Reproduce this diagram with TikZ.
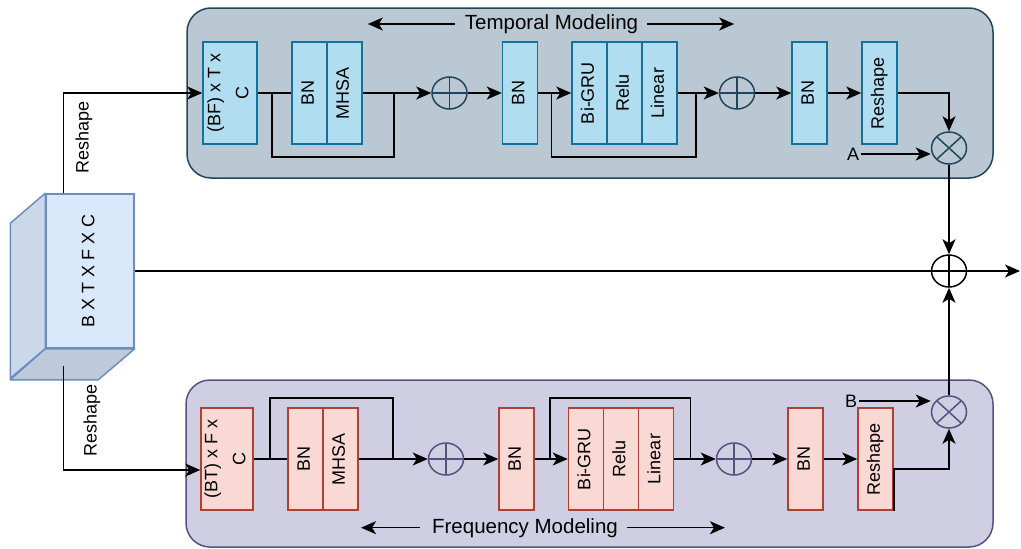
\documentclass[tikz,border=0pt]{standalone}
\usepackage{fontspec}
\setmainfont{Liberation Sans}
\usetikzlibrary{shapes.geometric,arrows.meta}
\definecolor{tempPanel}{HTML}{BAC8D3}
\definecolor{tempEdge}{HTML}{23445D}
\definecolor{tempBox}{HTML}{B1DDF0}
\definecolor{tempBoxEdge}{HTML}{10739E}
\definecolor{freqPanel}{HTML}{D0CEE2}
\definecolor{freqEdge}{HTML}{56517E}
\definecolor{freqBox}{HTML}{FAD9D5}
\definecolor{freqBoxEdge}{HTML}{AE4132}
\definecolor{cubeFace}{HTML}{DAE8FC}
\definecolor{cubeEdge}{HTML}{6C8EBF}
\newcommand{\vtext}[1]{\rotatebox{90}{\begin{tabular}{@{}c@{}}#1\end{tabular}}}

\begin{document}
\begin{tikzpicture}[x=1pt, y=-1pt, line width=1.5pt,
    font=\fontsize{18}{22}\selectfont,
    >={Stealth[length=15pt,width=13pt,inset=4pt]},
    blk/.style={draw, minimum width=35pt, minimum height=102pt, inner sep=0pt},
    tblk/.style={blk, fill=tempBox, draw=tempBoxEdge},
    fblk/.style={blk, fill=freqBox, draw=freqBoxEdge},
    addop/.style={draw=#1, ellipse, minimum width=35pt, minimum height=32pt, inner sep=0pt,
        path picture={\draw[#1] (path picture bounding box.north) -- (path picture bounding box.south)
            (path picture bounding box.west) -- (path picture bounding box.east);}},
    mulop/.style={draw=#1, ellipse, minimum width=35pt, minimum height=32pt, inner sep=0pt,
        path picture={\draw[#1] (path picture bounding box.north west) -- (path picture bounding box.south east)
            (path picture bounding box.north east) -- (path picture bounding box.south west);}},
    title/.style={anchor=base, font=\fontsize{20.5}{24}\selectfont}]
    \useasboundingbox (0,0) rectangle (1021,549);

    \filldraw[fill=tempPanel, draw=tempEdge, rounded corners=24pt] (187,8) rectangle (993,178);
    \filldraw[fill=freqPanel, draw=freqEdge, rounded corners=24pt] (186,380) rectangle (993,547);

    \node[title] (ttitle) at (551.5,29.3) {Temporal Modeling};
    \draw[->] ([xshift=-6pt]ttitle.west) -- ([xshift=-93pt]ttitle.west);
    \draw[->] ([xshift=5pt]ttitle.east) -- ([xshift=92pt]ttitle.east);
    \node[title] (ftitle) at (525,533) {Frequency Modeling};
    \draw[->] ([xshift=-8pt]ftitle.west) -- ([xshift=-67pt]ftitle.west);
    \draw[->] ([xshift=5pt]ftitle.east) -- ([xshift=103pt]ftitle.east);

    \node[draw=cubeEdge, fill=cubeFace, minimum width=88pt, minimum height=154pt, inner sep=0pt] (cube) at (90,271) {\vtext{B X T X F X C}};
    \filldraw[draw=cubeEdge, fill=cubeFace!93!black, line join=round] (cube.north west) -- ++(-35,30) -- ++(0,155) -- (cube.south west) -- cycle;
    \filldraw[draw=cubeEdge, fill=cubeFace!87!black, line join=round] (cube.south west) -- ++(-35,31) -- ++(88,0) -- (cube.south east) -- cycle;

    \node[tblk, minimum width=54pt] (bf) at (230,93) {\vtext{(BF) x T x\\[6pt]C}};
    \node[tblk] (tbn1) at (309.5,93) {\vtext{BN}};
    \node[tblk] (tmhsa) at (344.5,93) {\vtext{MHSA}};
    \node[addop=tempEdge] (tadd1) at (449.5,93) {};
    \node[tblk] (tbn2) at (520,93) {\vtext{BN}};
    \node[tblk] (tgru) at (589.5,93) {\vtext{Bi-GRU}};
    \node[tblk] (trelu) at (624.5,93) {\vtext{Relu}};
    \node[tblk] (tlin) at (659.5,93) {\vtext{Linear}};
    \node[addop=tempEdge] (tadd2) at (737,93) {};
    \node[tblk] (tbn3) at (809.5,93) {\vtext{BN}};
    \node[tblk] (tresh) at (879.5,93) {\vtext{Reshape}};
    \node[mulop=tempEdge] (tmul) at (949,148) {};
    \node[inner sep=1pt] (A) at (853,154) {A};

    \node[fblk, minimum width=52pt] (bt) at (227,459) {\vtext{(BT) x F x\\[6pt]C}};
    \node[fblk] (fbn1) at (305.5,459) {\vtext{BN}};
    \node[fblk] (fmhsa) at (340.5,459) {\vtext{MHSA}};
    \node[addop=freqEdge] (fadd1) at (446,459) {};
    \node[fblk] (fbn2) at (516.5,459) {\vtext{BN}};
    \node[fblk] (fgru) at (586,459) {\vtext{Bi-GRU}};
    \node[fblk] (frelu) at (621,459) {\vtext{Relu}};
    \node[fblk] (flin) at (656,459) {\vtext{Linear}};
    \node[addop=freqEdge] (fadd2) at (734,459) {};
    \node[fblk] (fbn3) at (805.5,459) {\vtext{BN}};
    \node[fblk] (fresh) at (875.5,459) {\vtext{Reshape}};
    \node[mulop=freqEdge] (fmul) at (949,412) {};
    \node[inner sep=1pt] (B) at (851,401) {B};

    \node[addop=black] (sum) at (949,271) {};
    \coordinate (out) at (1020,271);

    \node[rotate=90] (rtop) at (84,137) {Reshape};
    \node[rotate=90] (rbot) at (92,420) {Reshape};
    \draw[->] ([xshift=18pt]cube.north west) |- (bf.west);
    \draw[->] ([xshift=18pt,yshift=-17pt]cube.south west) |- ([yshift=-11pt]bt.west);

    \draw (bf.east) -- (tbn1.west);
    \draw[->] (tmhsa.east) -- (tadd1.west);
    \draw ([xshift=14pt]bf.east) |- ([xshift=31pt,yshift=-64pt]tmhsa.east) -- ([xshift=31pt]tmhsa.east);
    \draw[->] (tadd1.east) -- (tbn2.west);
    \draw[->] (tbn2.east) -- (tgru.west);
    \draw[->] (tlin.east) -- (tadd2.west);
    \draw ([xshift=13pt]tbn2.east) |- ([xshift=18pt,yshift=-64pt]tlin.east) -- ([xshift=18pt]tlin.east);
    \draw[->] (tadd2.east) -- (tbn3.west);
    \draw[->] (tbn3.east) -- (tresh.west);
    \draw[->] (tresh.east) -| (tmul.north);
    \draw[->] (A.east) -- (A.east -| tmul.west);

    \draw (bt.east) -- (fbn1.west);
    \draw[->] (fmhsa.east) -- (fadd1.west);
    \draw ([xshift=16pt]bt.east) |- ([xshift=34pt,yshift=61pt]fmhsa.east) -- ([xshift=34pt]fmhsa.east);
    \draw[->] (fadd1.east) -- (fbn2.west);
    \draw[->] (fbn2.east) -- (fgru.west);
    \draw[->] (flin.east) -- (fadd2.west);
    \draw ([xshift=15pt]fbn2.east) |- ([xshift=16pt,yshift=61pt]flin.east) -- ([xshift=16pt]flin.east);
    \draw[->] (fadd2.east) -- (fbn3.west);
    \draw[->] (fbn3.east) -- (fresh.west);
    \draw[->] (fresh.south east) -- ([yshift=-10pt]fresh.east) -| (fmul.south);
    \draw[->] (B.east) -- (B.east -| fmul.west);

    \draw[->] (tmul.south) -- (sum.north);
    \draw[->] (fmul.north) -- (sum.south);
    \draw (cube.east) -- (sum.west);
    \draw[->] (sum.east) -- (out);
\end{tikzpicture}
\end{document}
